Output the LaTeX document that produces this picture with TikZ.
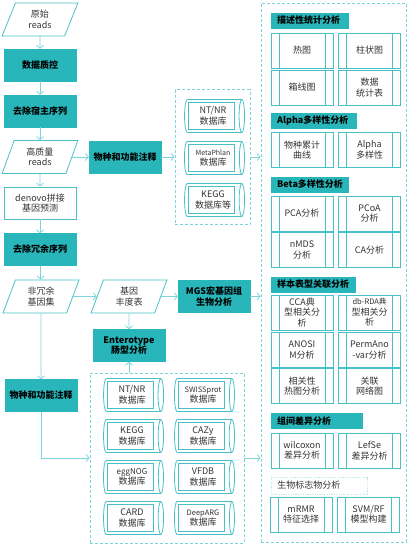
\documentclass[tikz,border=0pt]{standalone}
\usepackage{fontspec}
\setmainfont{Noto Sans CJK SC}
\usetikzlibrary{shapes.geometric,arrows.meta}

\definecolor{mgteal}{RGB}{40,182,186}
\definecolor{mgline}{RGB}{125,213,217}
\definecolor{mgedge}{RGB}{72,193,198}
\definecolor{mgtext}{RGB}{51,51,51}

\begin{document}
\begin{tikzpicture}[
        x=1pt, y=-1pt,
        font=\fontsize{9}{10.5}\selectfont,
        teal box/.style={rectangle, fill=mgteal, draw=mgteal, minimum width=72pt, minimum height=32pt, align=center, font=\fontsize{9}{10.5}\selectfont\bfseries, inner sep=1pt},
        data box/.style={trapezium, trapezium left angle=71, trapezium right angle=109, trapezium stretches=true, draw=mgedge, line width=0.8pt, minimum width=76pt, minimum height=33pt, align=center, text=mgtext, inner sep=0pt},
        plain box/.style={rectangle, draw=mgedge, line width=0.8pt, minimum width=72pt, minimum height=32pt, align=center, text=mgtext, inner sep=1pt},
        proc box/.style={rectangle, draw=mgedge, line width=0.9pt, minimum width=62pt, minimum height=35pt, align=center, text=mgtext, inner sep=1pt,
            path picture={\draw[mgedge, line width=0.9pt] ([xshift=8pt]path picture bounding box.north west) -- ([xshift=8pt]path picture bounding box.south west)
                ([xshift=-8pt]path picture bounding box.north east) -- ([xshift=-8pt]path picture bounding box.south east);}},
        db store/.style={cylinder, aspect=0.3, draw=mgedge, line width=0.8pt, minimum width=33pt, minimum height=60pt, align=center, text=mgtext, inner sep=0pt,
            path picture={\draw[mgedge, line width=0.6pt] ([xshift=4pt,yshift=-3pt]path picture bounding box.north west) rectangle ([xshift=-10pt,yshift=3pt]path picture bounding box.south east);}},
        title bar/.style={rectangle, fill=mgteal, anchor=west, minimum height=16pt, inner xsep=6pt, inner ysep=0pt, align=left, font=\fontsize{9}{10.5}\selectfont\bfseries},
        group frame/.style={rectangle, draw=mgline, dash pattern=on 3pt off 2pt, line width=0.8pt},
        flow arrow/.style={draw=mgline, line width=0.8pt, -{Straight Barb[length=3pt,width=7pt]}}
    ]
    \useasboundingbox (0,0) rectangle (409,557);

    % Main column
    \node[data box] (raw) at (40,19.5) {原始\\reads};
    \node[teal box] (qc) at (40,65) {数据质控};
    \node[teal box] (host) at (40,111) {去除宿主序列};
    \node[data box] (hq) at (40,157) {高质量\\reads};
    \node[plain box] (denovo) at (40,203) {denovo拼接\\基因预测};
    \node[teal box] (dedup) at (40,249.5) {去除冗余序列};
    \node[data box] (nonred) at (41,296.5) {非冗余\\基因集};
    \node[data box] (abund) at (129,296.5) {基因\\丰度表};
    \node[teal box] (mgs) at (214,296.5) {MGS宏基因组\\生物分析};
    \node[teal box] (entero) at (129,345.5) {Enterotype\\肠型分析};

    % Annotation of reads
    \node[teal box] (annotA) at (125,157) {物种和功能注释};
    \node[group frame, minimum width=75pt, minimum height=135pt] (dbA) at (212.5,157) {};
    \foreach \n/\y/\t in {ntA/116/{NT/NR\\数据库}, mpa/158/{{\fontsize{7}{9}\selectfont MetaPhlan}\\数据库}, keggA/200/{KEGG\\数据库等}}
        \node[db store] (\n) at (213,\y) {\t};

    % Annotation of genes
    \node[teal box] (annotB) at (41,395.5) {物种和功能注释};
    \node[group frame, minimum width=154pt, minimum height=170pt] (dbB) at (167,458) {};
    \foreach \n/\x/\y/\t in {ntB/132/395/{NT/NR\\数据库}, swiss/203/395/{{\fontsize{7.5}{9}\selectfont SWISSprot}\\数据库},
            keggB/132/436/{KEGG\\数据库}, cazy/203/436/{CAZy\\数据库},
            egg/132/477/{{\fontsize{8}{9}\selectfont eggNOG}\\数据库}, vfdb/203/477/{VFDB\\数据库},
            card/132/518/{CARD\\数据库}, deep/203/518/{{\fontsize{7.5}{9}\selectfont DeepARG}\\数据库}}
        \node[db store] (\n) at (\x,\y) {\t};

    % Analysis panel
    \node[group frame, minimum width=145pt, minimum height=539pt] (panel) at (333.5,272.5) {};
    \foreach \n/\y/\w/\t in {descr/20.5/66/描述性统计分析, alpha/120.5/74/Alpha多样性分析, beta/184.5/66/Beta多样性分析,
            pheno/284.5/73/样本表型关联分析, diff/421/80/组间差异分析}
        \node[title bar, text width=\w pt] (\n) at (271,\y) {\t};
    \foreach \n/\x/\y/\t in {heat/302/50.5/{热图}, bar/369.5/50.5/{柱状图}, boxp/302/87.5/{箱线图}, stat/369.5/87.5/{数据\\统计表},
            rare/302/150/{物种累计\\曲线}, adiv/369.5/150/{Alpha\\多样性},
            pca/302/213.5/{PCA分析}, pcoa/369.5/213.5/{PCoA\\分析}, nmds/302/250/{nMDS\\分析}, ca/369.5/250/{CA分析},
            cca/302/312.5/{CCA典\\型相关分\\析}, rda/369.5/312.5/{\fontsize{7.5}{9.5}\selectfont db-RDA典\\型相关分\\析},
            anosim/302/350/{ANOSI\\M分析}, perm/369.5/350/{PermAno\\-var分析},
            corr/302/386/{相关性\\热图分析}, net/369.5/386/{关联\\网络图},
            wilc/302/450.5/{wilcoxon\\差异分析}, lefse/369.5/450.5/{LefSe\\差异分析},
            mrmr/301/514.5/{mRMR\\特征选择}, svm/368.5/514.5/{SVM/RF\\模型构建}}
        \node[proc box] (\n) at (\x,\y) {\t};
    \node[rectangle, draw=mgline!55, dash pattern=on 1.2pt off 1.2pt, line width=0.7pt, anchor=west, minimum width=96pt, minimum height=17pt, text width=84pt, inner xsep=6pt, align=left, text=mgtext] (marker) at (271,485.5) {生物标志物分析};

    % Connectors
    \foreach \a/\b in {raw/qc, qc/host, host/hq, hq/denovo, denovo/dedup, dedup/nonred, nonred/annotB, abund/entero,
            hq/annotA, annotA/dbA, nonred/abund, abund/mgs}
        \draw[flow arrow] (\a) -- (\b);
    \foreach \a in {dbA, mgs, dbB}
        \draw[flow arrow] (\a) -- (\a -| panel.west);
    \draw[flow arrow] (annotB) |- (dbB);
    \draw[flow arrow] (dbB.north -| entero) -- (entero);

\end{tikzpicture}
\end{document}
